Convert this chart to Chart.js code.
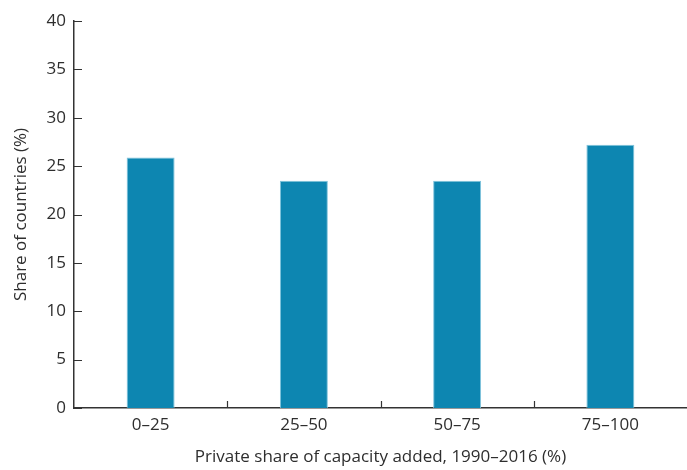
<!DOCTYPE html>
<html>
<head>
<meta charset="utf-8">
<script src="https://cdn.jsdelivr.net/npm/chart.js@4.4.0/dist/chart.umd.min.js"></script>
<style>
html,body{margin:0;padding:0;background:#fff;}
canvas{display:block;}
</style>
</head>
<body>
<canvas id="c" width="687" height="470"></canvas>
<script>
const categories = ["0–25", "25–50", "50–75", "75–100"];
const shareOfCountries = [25.9, 23.5, 23.5, 27.2];
const yTicks = [0, 5, 10, 15, 20, 25, 30, 35, 40];
const xTitle = "Private share of capacity added, 1990–2016 (%)";
const yTitle = "Share of countries (%)";

const textColor = "#2e2e2e";
const axisColor = "#333333";
const fontFamily = "'Open Sans', sans-serif";

const innerTicks = {
  id: "innerTicks",
  afterDraw(chart) {
    const ctx = chart.ctx;
    const x = chart.scales.x, y = chart.scales.y;
    ctx.save();
    ctx.strokeStyle = axisColor;
    ctx.lineWidth = 1.2;
    ctx.beginPath();
    yTicks.forEach(v => {
      const py = Math.round(y.getPixelForValue(v)) + 0.5;
      ctx.moveTo(x.left, py);
      ctx.lineTo(x.left + 8, py);
    });
    for (let i = 1; i < categories.length; i++) {
      const px = Math.round((x.getPixelForTick(i - 1) + x.getPixelForTick(i)) / 2) + 0.5;
      ctx.moveTo(px, y.bottom);
      ctx.lineTo(px, y.bottom - 7);
    }
    ctx.stroke();
    ctx.restore();
  }
};

new Chart(document.getElementById("c"), {
  type: "bar",
  data: {
    labels: categories,
    datasets: [{
      data: shareOfCountries,
      backgroundColor: "#0D86B1",
      borderColor: "#7FC3DC",
      borderWidth: {top: 1, left: 1, right: 1, bottom: 0},
      barPercentage: 0.313,
      categoryPercentage: 1.0
    }]
  },
  options: {
    responsive: false,
    animation: false,
    devicePixelRatio: 1,
    layout: {padding: {top: 21, right: 0, left: 9, bottom: 0}},
    plugins: {legend: {display: false}, tooltip: {enabled: false}},
    scales: {
      x: {
        grid: {display: false, drawTicks: false},
        border: {display: true, color: axisColor, width: 1.5},
        ticks: {color: textColor, font: {family: fontFamily, size: 17}, padding: 7},
        title: {display: true, text: xTitle, color: textColor, font: {family: fontFamily, size: 17, lineHeight: 1}},
        afterFit(scale) { scale.height = 62; }
      },
      y: {
        min: 0, max: 40,
        afterBuildTicks(scale) { scale.ticks = yTicks.map(v => ({value: v})); },
        grid: {display: false, drawTicks: false},
        border: {display: true, color: axisColor, width: 1.5},
        ticks: {color: textColor, font: {family: fontFamily, size: 17}, padding: 8},
        title: {display: true, text: yTitle, color: textColor, font: {family: fontFamily, size: 17, lineHeight: 1}},
        afterFit(scale) { scale.width = 65; }
      }
    }
  },
  plugins: [innerTicks]
});
</script>
</body>
</html>
